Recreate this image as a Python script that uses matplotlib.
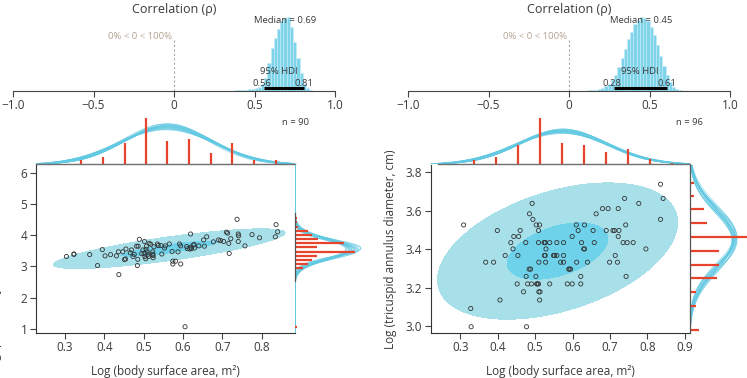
import numpy as np
import matplotlib
matplotlib.use("Agg")
import matplotlib.pyplot as plt

plt.rcParams['font.family'] = ['Open Sans', 'DejaVu Sans']

# ---------------- data ----------------
# posterior of correlation (bin centres and relative heights)
rho_bins_L = [0.35, 0.37, 0.39, 0.41, 0.43, 0.45, 0.47, 0.49, 0.51, 0.53, 0.55, 0.57, 0.59, 0.61,
              0.63, 0.65, 0.67, 0.69, 0.71, 0.73, 0.75, 0.77, 0.79, 0.81, 0.83, 0.85, 0.87]
rho_hist_L = [0.003, 0.005, 0.007, 0.01, 0.013, 0.017, 0.022, 0.03, 0.04, 0.06, 0.10, 0.18, 0.38, 0.58,
              0.72, 0.84, 0.94, 0.99, 1.0, 0.86, 0.66, 0.44, 0.24, 0.10, 0.04, 0.015, 0.005]
rho_bins_R = [0.09, 0.11, 0.13, 0.15, 0.17, 0.19, 0.21, 0.23, 0.25, 0.27, 0.29, 0.31, 0.33, 0.35, 0.37, 0.39,
              0.41, 0.43, 0.45, 0.47, 0.49, 0.51, 0.53, 0.55, 0.57, 0.59, 0.61, 0.63, 0.65, 0.67, 0.69, 0.71]
rho_hist_R = [0.003, 0.006, 0.01, 0.015, 0.02, 0.03, 0.045, 0.07, 0.10, 0.15, 0.22, 0.32, 0.45, 0.57, 0.70, 0.80,
              0.90, 0.96, 1.0, 0.99, 0.95, 0.87, 0.76, 0.62, 0.47, 0.34, 0.22, 0.12, 0.06, 0.03, 0.012, 0.005]
rho_median = [0.69, 0.45]
rho_hdi = [(0.56, 0.81), (0.28, 0.61)]
n_obs = [90, 96]

# left panel scatter
xL = [0.304, 0.323, 0.323, 0.363, 0.383, 0.395, 0.402, 0.416, 0.431, 0.437, 0.436, 0.447, 0.451, 0.454,
      0.455, 0.466, 0.469, 0.473, 0.476, 0.482, 0.486, 0.485, 0.484, 0.489, 0.495, 0.498, 0.501, 0.503,
      0.505, 0.506, 0.507, 0.502, 0.509, 0.511, 0.512, 0.514, 0.518, 0.523, 0.523, 0.524, 0.524, 0.526,
      0.535, 0.537, 0.544, 0.546, 0.553, 0.555, 0.565, 0.572, 0.574, 0.574, 0.581, 0.587, 0.591, 0.594,
      0.594, 0.605, 0.609, 0.611, 0.617, 0.620, 0.621, 0.626, 0.628, 0.629, 0.619, 0.640, 0.654, 0.652,
      0.660, 0.677, 0.690, 0.695, 0.703, 0.710, 0.713, 0.716, 0.717, 0.721, 0.737, 0.740, 0.741, 0.740,
      0.757, 0.775, 0.794, 0.834, 0.836, 0.840]
yL = [3.32, 3.39, 3.40, 3.38, 3.03, 3.54, 3.34, 3.38, 3.34, 2.74, 3.47, 3.47, 3.22, 3.24,
      3.56, 3.44, 3.53, 3.32, 3.39, 3.65, 3.65, 3.23, 3.03, 3.87, 3.41, 3.53, 3.41, 3.32,
      3.25, 3.55, 3.65, 3.80, 3.47, 3.39, 3.32, 3.74, 3.71, 3.47, 3.39, 3.35, 3.28, 3.63,
      3.72, 3.67, 3.67, 3.40, 3.59, 3.66, 3.72, 3.48, 3.17, 3.08, 3.17, 3.47, 3.72, 3.66,
      3.08, 1.07, 3.64, 3.57, 3.56, 3.62, 3.57, 3.69, 3.70, 3.59, 4.04, 3.66, 3.65, 3.85,
      3.95, 3.79, 3.85, 3.83, 3.80, 4.10, 4.07, 3.74, 3.42, 3.89, 4.51, 4.04, 3.98, 3.80,
      3.66, 4.02, 3.92, 3.95, 4.34, 4.11]

# right panel scatter
xR = [0.835, 0.739, 0.842, 0.492, 0.777, 0.680, 0.695, 0.722, 0.485, 0.663, 0.494, 0.835,
      0.309, 0.503, 0.512, 0.610, 0.632, 0.742,
      0.399, 0.460, 0.509, 0.615, 0.655, 0.690, 0.708, 0.712, 0.724,
      0.443, 0.456, 0.599, 0.722,
      0.435, 0.475, 0.509, 0.524, 0.527, 0.539, 0.558, 0.576, 0.624, 0.658, 0.735, 0.746, 0.762, 0.526,
      0.441, 0.529, 0.630, 0.632, 0.796,
      0.420, 0.454, 0.525, 0.527, 0.549, 0.552, 0.558, 0.576, 0.714,
      0.368, 0.389, 0.510, 0.528, 0.568, 0.576, 0.611, 0.640, 0.699, 0.720, 0.590,
      0.484, 0.488, 0.591, 0.595,
      0.476, 0.502, 0.622, 0.743,
      0.452, 0.480, 0.490, 0.504, 0.509, 0.539, 0.586, 0.599, 0.622, 0.506,
      0.469, 0.510, 0.513,
      0.406, 0.512, 0.328, 0.329, 0.477]
yR = [3.738, 3.664, 3.664, 3.638, 3.638, 3.611, 3.611, 3.611, 3.584, 3.584, 3.555, 3.555,
      3.526, 3.526, 3.526, 3.526, 3.526, 3.526,
      3.497, 3.497, 3.497, 3.497, 3.497, 3.497, 3.497, 3.497, 3.497,
      3.466, 3.466, 3.466, 3.466,
      3.434, 3.434, 3.434, 3.434, 3.434, 3.434, 3.434, 3.434, 3.434, 3.434, 3.434, 3.434, 3.434, 3.434,
      3.401, 3.401, 3.401, 3.401, 3.401,
      3.367, 3.367, 3.367, 3.367, 3.367, 3.367, 3.367, 3.367, 3.367,
      3.332, 3.332, 3.332, 3.332, 3.332, 3.332, 3.332, 3.332, 3.332, 3.332, 3.296,
      3.296, 3.296, 3.296, 3.296,
      3.258, 3.258, 3.258, 3.258,
      3.219, 3.219, 3.219, 3.219, 3.219, 3.219, 3.219, 3.219, 3.219, 3.219,
      3.178, 3.178, 3.178,
      3.135, 3.135, 3.091, 2.996, 2.996]

# marginal histograms (density heights)
topL_x = [0.288, 0.342, 0.397, 0.452, 0.506, 0.560, 0.615, 0.671, 0.725, 0.780, 0.835]
topL_h = [0.09, 0.46, 0.65, 2.01, 4.27, 2.20, 2.39, 1.05, 2.01, 0.46, 0.46]
topR_x = [0.337, 0.396, 0.454, 0.513, 0.573, 0.631, 0.690, 0.749, 0.808, 0.866]
topR_h = [0.40, 0.73, 1.90, 4.60, 2.10, 1.90, 1.23, 1.53, 0.57, 0.17]
sideL_y = [4.54, 4.41, 4.27, 4.14, 4.01, 3.87, 3.74, 3.61, 3.47, 3.34, 3.21, 3.07, 2.94, 1.07]
sideL_h = [0.04, 0.05, 0.08, 0.31, 0.39, 0.54, 1.13, 0.51, 1.40, 0.51, 0.39, 0.31, 0.19, 0.04]
sideR_y = [3.746, 3.678, 3.607, 3.534, 3.462, 3.392, 3.317, 3.250, 3.177, 3.106, 2.979]
sideR_h = [0.24, 0.24, 0.83, 1.01, 3.67, 1.72, 1.72, 1.60, 0.36, 0.36, 0.53]

# posterior predictive normal curves (mean, sd)
topL_mu = [0.552, 0.558, 0.561, 0.565, 0.556, 0.560, 0.563, 0.567, 0.554, 0.559,
           0.562, 0.557, 0.564, 0.555, 0.561, 0.566, 0.553, 0.560, 0.558, 0.563]
topL_sd = [0.108, 0.112, 0.118, 0.110, 0.122, 0.115, 0.107, 0.113, 0.119, 0.111,
           0.116, 0.125, 0.109, 0.114, 0.120, 0.112, 0.117, 0.106, 0.123, 0.115]
topR_mu = [0.565, 0.572, 0.578, 0.569, 0.575, 0.581, 0.567, 0.574, 0.570, 0.577,
           0.573, 0.568, 0.579, 0.571, 0.576, 0.566, 0.574, 0.580, 0.572, 0.569]
topR_sd = [0.118, 0.124, 0.115, 0.128, 0.121, 0.119, 0.126, 0.113, 0.122, 0.117,
           0.130, 0.120, 0.116, 0.125, 0.119, 0.123, 0.114, 0.121, 0.127, 0.118]
sideL_mu = [3.52, 3.55, 3.58, 3.54, 3.57, 3.60, 3.53, 3.56, 3.59, 3.55,
            3.51, 3.57, 3.54, 3.58, 3.56, 3.53, 3.60, 3.55, 3.57, 3.52]
sideL_sd = [0.27, 0.30, 0.33, 0.28, 0.31, 0.26, 0.32, 0.29, 0.30, 0.34,
            0.28, 0.27, 0.31, 0.29, 0.33, 0.30, 0.28, 0.32, 0.26, 0.31]
sideR_mu = [3.44, 3.46, 3.45, 3.47, 3.43, 3.46, 3.45, 3.48, 3.44, 3.46,
            3.45, 3.47, 3.44, 3.46, 3.43, 3.45, 3.47, 3.46, 3.44, 3.45]
sideR_sd = [0.145, 0.152, 0.158, 0.148, 0.155, 0.142, 0.160, 0.150, 0.147, 0.156,
            0.153, 0.144, 0.159, 0.149, 0.151, 0.157, 0.146, 0.154, 0.143, 0.150]

# bivariate normal region parameters (mean x, mean y, sd x, sd y, rho)
bvn_L = [0.565, 3.57, 0.12, 0.26, 0.80]
bvn_R = [0.560, 3.39, 0.131, 0.145, 0.42]

xticks_L = [0.3, 0.4, 0.5, 0.6, 0.7, 0.8]
yticks_L = [1, 2, 3, 4, 5, 6]
xticks_R = [0.3, 0.4, 0.5, 0.6, 0.7, 0.8, 0.9]
yticks_R = [3.0, 3.2, 3.4, 3.6, 3.8]
rho_ticks = [-1.0, -0.5, 0, 0.5, 1.0]
rho_ticklabels = ['\u22121.0', '\u22120.5', '0', '0.5', '1.0']

xlabel = 'Log (body surface area, m\u00b2)'
ylabel_L = 'Log (pulmonary valve annulus diameter, mm)'
ylabel_R = 'Log (tricuspid annulus diameter, cm)'

# ---------------- style ----------------
RED = '#e8432d'
CURVE = '#62c9e2'
BAR = '#7fd4ea'
OUTER = '#a8e0ea'
INNER = '#6fd2eb'
TXT = '#3a3a3a'

W, H = 747, 378
fig = plt.figure(figsize=(W / 100, H / 100), dpi=100)


def rect(x0, y0, x1, y1):
    return [x0 / W, 1 - y1 / H, (x1 - x0) / W, (y1 - y0) / H]


def npdf(v, mu, sd):
    return np.exp(-0.5 * ((v - mu) / sd) ** 2) / (sd * np.sqrt(2 * np.pi))


panels = [
    dict(off=0, bins=rho_bins_L, hist=rho_hist_L, med=rho_median[0], hdi=rho_hdi[0], n=n_obs[0],
         x=xL, y=yL, xlim=(0.226, 0.884), ylim=(0.87, 6.25), xt=xticks_L, yt=yticks_L,
         ytl=[str(v) for v in yticks_L],
         tx=topL_x, th=topL_h, tmu=topL_mu, tsd=topL_sd, tmax=4.74, tbounds=None,
         sy=sideL_y, sh=sideL_h, smu=sideL_mu, ssd=sideL_sd, smax=1.63, sbounds=(2.52, 4.70),
         bvn=bvn_L, main=(35.7, 165, 295, 333), hdi_lab_x=0.651, ylab=ylabel_L),
    dict(off=395, bins=rho_bins_R, hist=rho_hist_R, med=rho_median[1], hdi=rho_hdi[1], n=n_obs[1],
         x=xR, y=yR, xlim=(0.221, 0.913), ylim=(2.965, 3.838), xt=xticks_R, yt=yticks_R,
         ytl=['%.1f' % v for v in yticks_R],
         tx=topR_x, th=topR_h, tmu=topR_mu, tsd=topR_sd, tmax=5.1, tbounds=(0.24, 0.913),
         sy=sideR_y, sh=sideR_h, smu=sideR_mu, ssd=sideR_sd, smax=4.14, sbounds=None,
         bvn=bvn_R, main=(430.7, 165, 689.7, 332.7), hdi_lab_x=0.44, ylab=ylabel_R),
]

for p in panels:
    o = p['off']
    # ---- correlation posterior ----
    ax = fig.add_axes(rect(13 + o, 17, 335 + o, 91))
    ax.bar(p['bins'], p['hist'], width=0.02, color=BAR, edgecolor='#c4ecf6', linewidth=0.4)
    ax.set_xlim(-1, 1)
    ax.set_ylim(0, 1)
    for s in ['top', 'right', 'left']:
        ax.spines[s].set_visible(False)
    ax.spines['bottom'].set_color('#444')
    ax.spines['bottom'].set_linewidth(0.8)
    ax.set_yticks([])
    ax.set_xticks(rho_ticks)
    ax.set_xticklabels(rho_ticklabels)
    ax.tick_params(axis='x', length=4, width=0.8, color='#444', labelsize=8.5, labelcolor=TXT, pad=2)
    lo, hi = p['hdi']
    ax.plot([lo, hi], [0.036, 0.036], color='black', lw=2.2, solid_capstyle='butt')
    ax.plot([0, 0], [0, 0.70], color='#aaaaaa', lw=0.8, ls=(0, (2, 2)))
    ax.text(0, 1.108, 'Correlation (\u03c1)', ha='center', va='center', fontsize=9, color=TXT, clip_on=False)
    ax.text(p['med'], 0.946, 'Median = %.2f' % p['med'], ha='center', va='center', fontsize=6.8, color=TXT)
    ax.text(-0.012, 0.734, '0% < 0 < 100%', ha='right', va='center', fontsize=6.8, color='#b3a391')
    ax.text(p['hdi_lab_x'], 0.26, '95% HDI', ha='center', va='center', fontsize=6.8, color=TXT)
    ax.text(lo - 0.012, 0.108, '%.2f' % lo, ha='center', va='center', fontsize=6.8, color=TXT)
    ax.text(hi, 0.108, '%.2f' % hi, ha='center', va='center', fontsize=6.8, color=TXT)

    mx0, my0, mx1, my1 = p['main']
    # ---- main scatter ----
    ax = fig.add_axes(rect(mx0, my0, mx1, my1))
    gx = np.linspace(p['xlim'][0], p['xlim'][1], 400)
    gy = np.linspace(p['ylim'][0], p['ylim'][1], 400)
    GX, GY = np.meshgrid(gx, gy)
    m1, m2, s1, s2, r = p['bvn']
    dx = (GX - m1) / s1
    dy = (GY - m2) / s2
    d2 = (dx ** 2 - 2 * r * dx * dy + dy ** 2) / (1 - r ** 2)
    ax.contourf(GX, GY, d2, levels=[0, 1.10, 5.99], colors=[INNER, OUTER])
    ax.scatter(p['x'], p['y'], s=9, facecolors='none', edgecolors='#333333', linewidths=0.6, zorder=3)
    ax.set_xlim(*p['xlim'])
    ax.set_ylim(*p['ylim'])
    ax.set_xticks(p['xt'])
    ax.set_xticklabels(['%.1f' % v for v in p['xt']])
    ax.set_yticks(p['yt'])
    ax.set_yticklabels(p['ytl'])
    for s in ['top', 'right']:
        ax.spines[s].set_visible(False)
    for s in ['left', 'bottom']:
        ax.spines[s].set_color('#333')
        ax.spines[s].set_linewidth(0.8)
    ax.tick_params(length=4, width=0.8, color='#444', labelsize=8.5, labelcolor=TXT, pad=2)
    fig.text((mx0 + mx1) / 2 / W, 1 - 371.7 / H, xlabel, ha='center', va='center', fontsize=8.5, color=TXT)

    # ---- top marginal ----
    ax = fig.add_axes(rect(mx0, 113, mx1, 164.5))
    xx = np.linspace(p['xlim'][0], p['xlim'][1], 300)
    for mu, sd in zip(p['tmu'], p['tsd']):
        ax.plot(xx, npdf(xx, mu, sd), color=CURVE, lw=0.5, alpha=0.75)
    ax.vlines(p['tx'], 0, p['th'], color=RED, lw=1.6, zorder=3)
    ax.set_xlim(*p['xlim'])
    ax.set_ylim(0, p['tmax'])
    ax.set_xticks([])
    ax.set_yticks([])
    for s in ['top', 'right', 'left']:
        ax.spines[s].set_visible(False)
    ax.spines['bottom'].set_color('#707070')
    ax.spines['bottom'].set_linewidth(1.0)
    ax.spines['bottom'].set_zorder(4)
    if p['tbounds']:
        ax.spines['bottom'].set_bounds(*p['tbounds'])
    ax.patch.set_alpha(0)
    ax.text(1.0, 0.81, 'n = %d' % p['n'], transform=ax.transAxes, ha='center', va='center',
            fontsize=6.8, color=TXT)

    # ---- side marginal ----
    ax = fig.add_axes(rect(mx1, my0, mx1 + 70, my1))
    yy = np.linspace(p['ylim'][0], p['ylim'][1], 300)
    for mu, sd in zip(p['smu'], p['ssd']):
        ax.plot(npdf(yy, mu, sd), yy, color=CURVE, lw=0.5, alpha=0.75)
    ax.hlines(p['sy'], 0, p['sh'], color=RED, lw=1.6, zorder=3)
    ax.set_ylim(*p['ylim'])
    ax.set_xlim(0, p['smax'])
    ax.set_xticks([])
    ax.set_yticks([])
    for s in ['top', 'right', 'bottom']:
        ax.spines[s].set_visible(False)
    ax.spines['left'].set_color('#555')
    ax.spines['left'].set_linewidth(0.9)
    ax.spines['left'].set_zorder(4)
    if p['sbounds']:
        ax.spines['left'].set_bounds(*p['sbounds'])
    ax.patch.set_alpha(0)

# y labels (left one is clipped by the figure edge, as in the source)
fig.text(2 / W, 1 - 249 / H, ylabel_L, rotation=90, ha='right', va='center', fontsize=8.5, color=TXT)
fig.text(391 / W, 1 - 249 / H, ylabel_R, rotation=90, ha='center', va='center', fontsize=8.5, color=TXT)

fig.savefig('out.png', dpi=100)
